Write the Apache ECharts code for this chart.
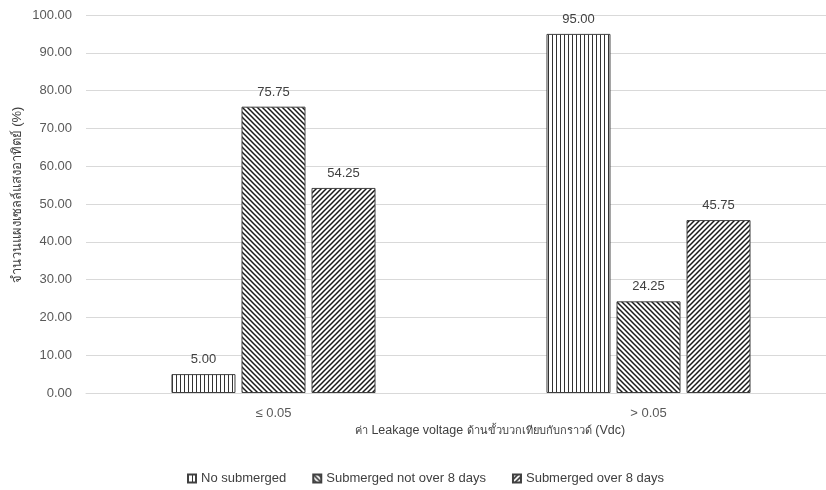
<!DOCTYPE html>
<html>
<head>
<meta charset="utf-8">
<script src="https://cdn.jsdelivr.net/npm/echarts@6/dist/echarts.min.js"></script>
<style>
  html, body { margin: 0; padding: 0; background: #fff; overflow: hidden; }
  /* canvas is a little wider than the window so the plot runs past the right edge */
  #chart { width: 836px; height: 490px; }
</style>
</head>
<body>
<div id="chart"></div>
<script>
// Leakage voltage groups and share of panels (%) per submersion condition
const categories = ['≤ 0.05', '> 0.05'];
const seriesNames = ['No submerged', 'Submerged not over 8 days', 'Submerged over 8 days'];
const noSubmerged = [5.00, 95.00];
const submergedNotOver8 = [75.75, 24.25];
const submergedOver8 = [54.25, 45.75];
const yTicks = { min: 0, max: 100, interval: 10 };

const yTitle = 'จำนวนแผงเซลล์แสงอาทิตย์ (%)';

const FONT = '"Liberation Sans", "Noto Sans", sans-serif';

// Hatch fills built on small canvases and tiled by the renderer
function hatch(kind) {
  const size = kind === 'vertical' ? 4 : 5;
  const c = document.createElement('canvas');
  c.width = size; c.height = size;
  const g = c.getContext('2d');
  g.fillStyle = '#fff';
  g.fillRect(0, 0, size, size);
  if (kind === 'vertical') {
    g.fillStyle = '#333';
    g.fillRect(0, 0, 1, size);
  } else {
    g.strokeStyle = '#1a1a1a';
    g.lineWidth = 1.5;
    g.beginPath();
    for (let k = -1; k <= 1; k++) {
      if (kind === 'down') {
        g.moveTo(k * size - 1, -1);
        g.lineTo(k * size + size + 1, size + 1);
      } else {
        g.moveTo(k * size - 1, size + 1);
        g.lineTo(k * size + size + 1, -1);
      }
    }
    g.stroke();
  }
  return { image: c, repeat: 'repeat' };
}

const fills = [hatch('vertical'), hatch('down'), hatch('up')];
const values = [noSubmerged, submergedNotOver8, submergedOver8];

const chart = echarts.init(document.getElementById('chart'), null, { renderer: 'canvas' });

chart.setOption({
  backgroundColor: '#ffffff',
  animation: false,
  textStyle: { fontFamily: FONT },
  grid: { left: 86, right: 0, top: 15, bottom: 97, containLabel: false },
  legend: {
    top: 467,
    left: 182,
    itemWidth: 8,
    itemHeight: 8,
    itemGap: 26,
    icon: 'rect',
    textStyle: { fontFamily: FONT, fontSize: 13, color: '#404040' },
    data: seriesNames
  },
  xAxis: {
    type: 'category',
    data: categories,
    axisLine: { show: true, lineStyle: { color: '#d9d9d9', width: 1 } },
    axisTick: { show: false },
    axisLabel: { fontFamily: FONT, fontSize: 13, color: '#595959', margin: 14 }
  },
  yAxis: {
    type: 'value',
    min: yTicks.min,
    max: yTicks.max,
    interval: yTicks.interval,
    axisLine: { show: false },
    axisTick: { show: false },
    splitLine: { lineStyle: { color: '#d9d9d9', width: 1 } },
    axisLabel: {
      fontFamily: FONT, fontSize: 13, color: '#595959', margin: 14,
      formatter: v => v.toFixed(2)
    }
  },
  graphic: [
    {
      type: 'text',
      x: 490, y: 431,
      style: {
        text: '{th|ค่า} {en|Leakage voltage} {th|ด้านขั้วบวกเทียบกับกราวด์} {en|(Vdc)}',
        align: 'center', verticalAlign: 'middle',
        fill: '#404040',
        font: '13px ' + FONT,
        rich: {
          th: { fontFamily: FONT, fontSize: 11, fill: '#404040' },
          en: { fontFamily: FONT, fontSize: 12.5, fill: '#404040' }
        }
      }
    },
    {
      type: 'text',
      x: 17, y: 195,
      rotation: Math.PI / 2,
      style: {
        text: yTitle, font: '13px ' + FONT, fill: '#404040',
        align: 'center', verticalAlign: 'middle'
      }
    }
  ],
  series: seriesNames.map((name, i) => ({
    name,
    type: 'bar',
    data: values[i],
    barWidth: 64,
    barGap: '9.4%',
    itemStyle: { color: fills[i], borderColor: '#404040', borderWidth: 1 },
    label: {
      show: true,
      position: 'top',
      distance: 8,
      fontFamily: FONT,
      fontSize: 13,
      color: '#404040',
      formatter: p => p.value.toFixed(2)
    }
  }))
});
</script>
</body>
</html>
